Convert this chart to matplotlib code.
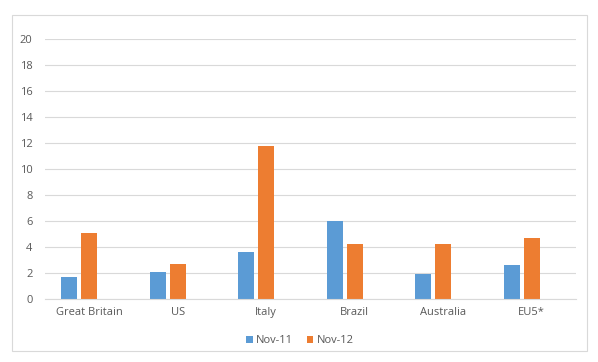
import numpy as np
from matplotlib import pyplot as plt
from matplotlib.patches import Rectangle

countries = ['Great Britain', 'US', 'Italy', 'Brazil', 'Australia', 'EU5*']
nov_11 = [1.7, 2.1, 3.6, 6.0, 1.9, 2.6]
nov_12 = [5.1, 2.7, 11.8, 4.2, 4.2, 4.7]

blue = '#5B9BD5'
orange = '#ED7D31'
grid = '#D9D9D9'
text = '#595959'

plt.rcParams['font.family'] = ['Open Sans', 'DejaVu Sans']

fig = plt.figure(figsize=(5.98, 3.62), dpi=100)
fig.patches.append(Rectangle((12 / 598, 1 - 351 / 362), 575 / 598, 336 / 362,
                             transform=fig.transFigure, fill=False,
                             edgecolor=grid, linewidth=0.8))

ax = fig.add_axes([45 / 598, 1 - 299 / 362, 531 / 598, 260 / 362])
x = np.arange(len(countries))
w = 16 / 88.5
step = 20 / 88.5
# excel chart had a third (empty) series, so the two bars sit left of centre
ax.bar(x - step, nov_11, width=w, color=blue, label='Nov-11')
ax.bar(x, nov_12, width=w, color=orange, label='Nov-12')

ax.set_xlim(-0.5, len(countries) - 0.5)
ax.set_ylim(0, 20)
ax.set_yticks(range(0, 21, 2))
ax.set_xticks(x)
ax.set_xticklabels(countries)
ax.yaxis.grid(True, color=grid, linewidth=0.8)
ax.set_axisbelow(True)
for s in ['left', 'right', 'top']:
    ax.spines[s].set_visible(False)
ax.spines['bottom'].set_color(grid)
ax.tick_params(length=0, labelsize=8, colors=text)
ax.tick_params(axis='y', pad=9)
ax.tick_params(axis='x', pad=6)

ax.legend(loc='upper center', bbox_to_anchor=(0.48, -0.1), ncol=2, frameon=False,
          fontsize=8, labelcolor=text, handlelength=0.6, handleheight=0.6,
          handletextpad=0.3, columnspacing=1.2)

fig.savefig('out.png', dpi=100)
